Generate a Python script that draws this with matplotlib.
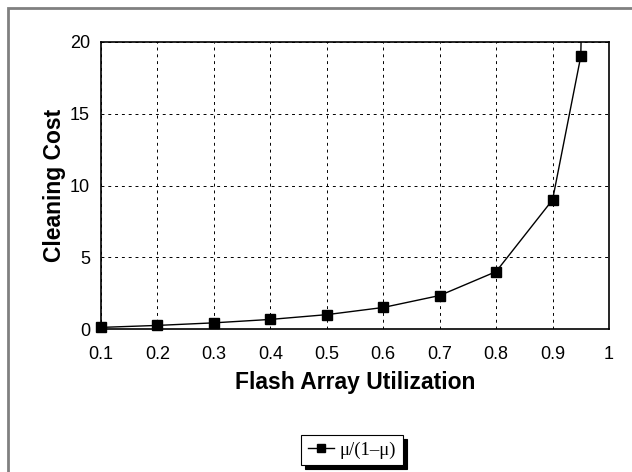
import matplotlib
matplotlib.use("Agg")
import matplotlib.pyplot as plt
from matplotlib.patches import Rectangle
from matplotlib.lines import Line2D

utilization = [0.1, 0.2, 0.3, 0.4, 0.5, 0.6, 0.7, 0.8, 0.9, 0.95, 0.99]
cost = [0.111, 0.25, 0.429, 0.667, 1.0, 1.5, 2.333, 4.0, 9.0, 19.0, 99.0]
x_ticks = [0.1, 0.2, 0.3, 0.4, 0.5, 0.6, 0.7, 0.8, 0.9, 1.0]
x_tick_labels = ["0.1", "0.2", "0.3", "0.4", "0.5", "0.6", "0.7", "0.8", "0.9", "1"]
y_ticks = [0, 5, 10, 15, 20]
series_label = "\u03bc/(1\u2013\u03bc)"

plt.rcParams['font.family'] = ['Liberation Sans', 'DejaVu Sans']

fig = plt.figure(figsize=(6.32, 4.72), dpi=100)
ax = fig.add_axes([101/632, 1-329/472, (609-101)/632, (329-42)/472])

ax.plot(utilization, cost, color='black', lw=1, clip_on=True)
ax.plot(utilization, cost, linestyle='none', marker='s', ms=7,
        markerfacecolor='black', markeredgecolor='black', clip_on=False, zorder=3)
ax.set_xlim(0.1, 1.0)
ax.set_ylim(0, 20)
ax.set_xticks(x_ticks)
ax.set_xticklabels(x_tick_labels)
ax.set_yticks(y_ticks)
ax.tick_params(axis='x', length=0, labelsize=13, pad=12)
ax.tick_params(axis='y', length=0, labelsize=13, pad=8)
ax.grid(True, color='black', linestyle=(0, (3, 4)), lw=0.7)
for s in ax.spines.values():
    s.set_linewidth(1.2)
ax.set_xlabel("Flash Array Utilization", fontsize=16.5, fontweight='bold', labelpad=6)
ax.set_ylabel("Cleaning Cost", fontsize=16.5, fontweight='bold', labelpad=3)

handle = Line2D([], [], color='black', lw=1, marker='s', ms=6,
                markerfacecolor='black', markeredgecolor='black')
leg = fig.legend([handle], [series_label], loc='center',
                 bbox_to_anchor=(352/632, 1-450/472), frameon=True,
                 fancybox=False, shadow={'color': 'black', 'alpha': 1, 'ox': 3, 'oy': -3},
                 prop={'family': 'Liberation Serif', 'size': 13.5},
                 handlelength=1.4, handletextpad=0.3, borderpad=0.35)
leg.get_frame().set_edgecolor('black')
leg.get_frame().set_linewidth(0.8)

fig.patches.append(Rectangle((8/632, -0.1), 1.2, (1-8/472)+0.1, transform=fig.transFigure,
                             fill=False, edgecolor='#808080', lw=2))

fig.savefig("out.png", dpi=100)
